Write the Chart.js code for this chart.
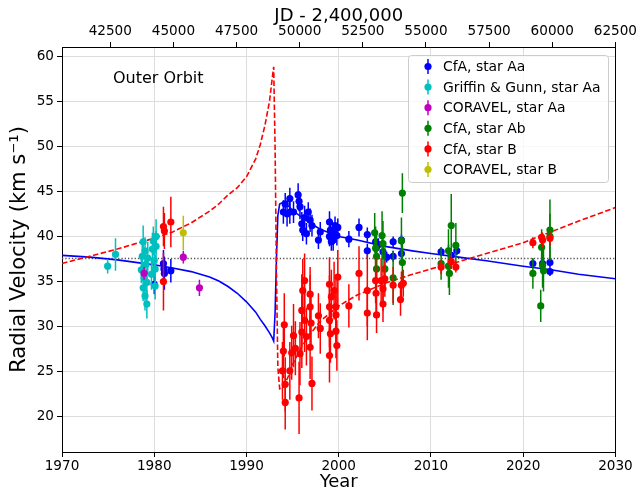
<!DOCTYPE html>
<html>
<head>
<meta charset="utf-8">
<script src="https://cdn.jsdelivr.net/npm/chart.js@4.4.0/dist/chart.umd.min.js"></script>
<style>
  html, body { margin: 0; padding: 0; background: #fff; }
  #wrap { width: 639px; height: 493px; }
</style>
</head>
<body>
<div id="wrap"><canvas id="rvChart" width="639" height="493"></canvas></div>
<script>
// axis ticks
const yearTicks = [1970, 1980, 1990, 2000, 2010, 2020, 2030];
const jdTicks = [42500, 45000, 47500, 50000, 52500, 55000, 57500, 60000, 62500];
const rvTicks = [20, 25, 30, 35, 40, 45, 50, 55, 60];
const systemicRv = 37.55;

// orbit curves
const fitYear = [1970, 1973, 1976, 1980, 1982, 1984, 1986, 1987, 1988, 1989, 1990, 1991, 1991.5, 1992, 1992.5, 1992.8, 1992.95,
  1993.1, 1993.25, 1993.4, 1993.6, 1994, 1994.5, 1995, 1996, 1997, 1998, 2000, 2002, 2005, 2008, 2010, 2013, 2016, 2020, 2023, 2026, 2030];
const fitAa = [37.9, 37.7, 37.4, 36.85, 36.5, 36.1, 35.5, 35.05, 34.45, 33.7, 32.75, 31.6, 30.8, 30.1, 29.3, 28.75, 28.4,
  31.5, 37.5, 42.3, 43.6, 43.8, 43.4, 42.9, 42.1, 41.4, 40.8, 40.0, 39.6, 38.9, 38.4, 38.1, 37.7, 37.3, 36.7, 36.3, 35.8, 35.3];
const fitB = [37.0, 37.8, 38.6, 39.8, 40.5, 41.5, 42.8, 43.6, 44.6, 45.4, 46.6, 48.6, 50.2, 52.3, 55.0, 57.6, 58.8,
  50.0, 36.0, 25.5, 23.1, 23.3, 24.4, 25.8, 27.8, 29.3, 30.6, 32.3, 33.5, 34.8, 35.8, 36.4, 37.2, 38.1, 39.3, 40.5, 41.7, 43.2];

// CfA, star Aa
const cfaAaYear = [1980.0, 1981.0, 1981.05, 1981.1, 1981.8,
  1994.0, 1994.2, 1994.4, 1994.7, 1994.7, 1995.1, 1995.6, 1995.7, 1995.8, 1996.0, 1996.1, 1996.3, 1996.5, 1996.7, 1996.9, 1997.1,
  1997.8, 1998.0, 1999.0, 1999.0, 1999.1, 1999.2, 1999.4, 1999.5, 1999.6, 1999.8, 1999.9, 2001.1, 2002.2, 2003.1, 2003.1,
  2004.0, 2004.1, 2004.3, 2004.8, 2005.2, 2005.9, 2005.9, 2006.8, 2006.8, 2011.1, 2012.2, 2012.8, 2021.05, 2022.1, 2022.9, 2022.9];
const cfaAaRv = [34.7, 37.0, 36.4, 35.9, 36.2,
  42.7, 43.6, 42.5, 44.2, 42.7, 42.7, 44.6, 43.9, 43.3, 41.4, 40.7, 42.1, 40.3, 42.7, 41.8, 41.2,
  39.6, 40.5, 41.6, 40.0, 40.7, 39.4, 39.6, 40.3, 41.2, 40.1, 41.0, 39.7, 41.0, 40.2, 38.4,
  39.4, 38.8, 39.1, 38.3, 37.7, 39.4, 37.8, 39.6, 38.1, 38.3, 37.9, 38.4, 37.0, 37.0, 37.1, 36.1];
const cfaAaErr = [1.1, 1.5, 1.4, 1.8, 1.3,
  1.3, 1.2, 1.4, 1.2, 1.3, 1.2, 1.3, 1.1, 1.4, 1.3, 1.2, 1.3, 1.2, 1.1, 1.3, 1.2,
  1.0, 1.1, 1.2, 1.1, 1.3, 1.0, 1.2, 1.1, 1.0, 1.1, 1.0, 0.9, 1.0, 0.8, 0.8,
  0.8, 0.7, 0.7, 0.7, 0.6, 0.6, 0.6, 0.6, 0.6, 0.5, 0.5, 0.5, 0.5, 0.5, 0.5, 0.5];

// Griffin & Gunn, star Aa
const ggAaYear = [1974.95, 1975.8, 1978.6, 1978.7, 1978.8, 1978.8, 1978.9, 1979.0, 1979.0, 1979.1, 1979.2, 1979.2, 1979.3,
  1979.7, 1979.8, 1979.9, 1980.0, 1980.1, 1980.2, 1980.1, 1980.2];
const ggAaRv = [36.7, 38.0, 36.3, 37.8, 34.3, 39.4, 35.4, 38.4, 33.4, 36.9, 32.5, 34.9, 37.6,
  35.8, 38.6, 39.5, 37.3, 34.5, 40.0, 36.4, 38.9];
const ggAaErr = [0.8, 1.8, 1.5, 1.8, 1.5, 1.8, 1.6, 1.5, 1.6, 1.7, 1.6, 1.5, 1.8,
  1.7, 1.8, 1.6, 1.7, 1.5, 1.9, 1.6, 1.7];

// CORAVEL, star Aa
const corAaYear = [1978.9, 1983.15, 1984.9];
const corAaRv = [35.9, 37.7, 34.3];
const corAaErr = [0.7, 0.7, 0.9];

// CfA, star Ab
const cfaAbYear = [2003.9, 2004.0, 2004.1, 2004.1, 2004.7, 2004.8, 2005.0, 2005.9, 2006.8, 2006.9, 2006.9,
  2011.1, 2011.9, 2011.9, 2012.0, 2012.2, 2012.7, 2021.05, 2021.9, 2022.0, 2022.1, 2022.2, 2022.9, 2022.9];
const cfaAbRv = [40.4, 38.7, 37.8, 36.4, 40.1, 39.2, 36.4, 35.4, 39.5, 44.8, 37.1,
  37.0, 38.4, 36.7, 35.9, 41.2, 39.0, 35.9, 32.3, 38.8, 36.8, 36.2, 40.7, 40.0];
const cfaAbErr = [2.2, 2.4, 2.5, 2.6, 2.7, 2.5, 2.4, 3.0, 2.6, 2.2, 2.5,
  1.8, 2.4, 2.4, 2.4, 3.5, 2.5, 1.7, 1.8, 2.0, 2.5, 2.3, 3.4, 2.5];

// CfA, star B
const cfaBYear = [1981.0, 1981.1, 1981.8, 1981.0,
  1993.9, 1994.0, 1994.1, 1994.2, 1994.2, 1994.7, 1994.9, 1995.1, 1995.3, 1995.7, 1995.8, 1996.0, 1996.0, 1996.1, 1996.3,
  1996.3, 1996.5, 1996.9, 1996.9, 1997.0, 1996.9, 1997.1, 1997.8, 1998.0, 1999.0, 1999.0, 1999.0, 1999.1, 1999.0, 1999.2,
  1999.5, 1999.7, 1999.9, 1999.7, 1999.7, 1999.8, 2001.1, 2002.2, 2003.1, 2003.1, 2004.0, 2004.05, 2004.1, 2004.6, 2004.8,
  2004.8, 2005.0, 2005.9, 2006.7, 2006.8, 2007.0, 2011.1, 2012.2, 2012.7, 2021.05, 2022.0, 2022.1, 2022.9];
const cfaBRv = [41.1, 40.6, 41.6, 35.0,
  25.1, 27.3, 30.2, 23.6, 21.6, 25.1, 27.1, 29.0, 27.6, 22.1, 27.0, 29.4, 31.8, 34.0, 35.1,
  30.7, 28.9, 33.6, 32.2, 30.4, 27.7, 23.7, 31.2, 29.8, 34.7, 32.2, 30.7, 29.2, 26.8, 33.3,
  34.0, 32.2, 35.5, 31.3, 29.5, 27.9, 32.3, 35.9, 34.0, 31.5, 35.1, 33.7, 31.3, 35.1, 34.2,
  32.5, 35.3, 34.6, 33.0, 34.6, 34.8, 36.6, 37.2, 36.6, 39.3, 39.9, 39.6, 39.8];
const cfaBErr = [2.2, 2.0, 2.8, 3.2,
  3.2, 3.0, 3.5, 3.0, 3.0, 3.2, 3.0, 3.5, 3.0, 4.0, 3.5, 4.0, 4.0, 3.5, 3.0,
  3.5, 3.2, 3.0, 3.5, 3.0, 3.5, 3.0, 2.5, 2.8, 3.0, 3.5, 3.0, 3.2, 3.0, 3.0,
  3.2, 3.0, 3.0, 3.0, 3.0, 2.8, 2.4, 3.0, 4.0, 3.0, 2.5, 2.5, 2.0, 2.5, 2.5,
  2.0, 2.0, 2.0, 1.8, 1.5, 1.5, 0.8, 0.8, 0.6, 0.6, 0.6, 0.8, 0.8];

// CORAVEL, star B
const corBYear = [1983.15];
const corBRv = [40.4];
const corBErr = [1.9];

const FONT = 'DejaVu Sans';

function pts(xs, ys) {
  return xs.map((x, i) => ({x: x, y: ys[i]}));
}

function rvSet(label, color, xs, ys, errs, order) {
  return {
    label: label,
    data: pts(xs, ys),
    errs: errs,
    backgroundColor: color,
    borderColor: color,
    borderWidth: 0,
    pointRadius: 3.6,
    pointHoverRadius: 3.6,
    order: order
  };
}

// vertical error bars, drawn just before each dataset's markers
const errorBars = {
  id: 'errorBars',
  beforeDatasetDraw(chart, args) {
    const ds = chart.data.datasets[args.index];
    if (!ds.errs) return;
    const ctx = chart.ctx, y = chart.scales.y, a = chart.chartArea;
    ctx.save();
    ctx.beginPath();
    ctx.rect(a.left, a.top, a.right - a.left, a.bottom - a.top);
    ctx.clip();
    ctx.strokeStyle = ds.backgroundColor;
    ctx.lineWidth = 1.5;
    args.meta.data.forEach((pt, i) => {
      const v = ds.data[i].y, e = ds.errs[i];
      ctx.beginPath();
      ctx.moveTo(pt.x, y.getPixelForValue(v - e));
      ctx.lineTo(pt.x, y.getPixelForValue(v + e));
      ctx.stroke();
    });
    ctx.restore();
  }
};

// matplotlib style legend box + "Outer Orbit" note
const boxLegend = {
  id: 'boxLegend',
  afterDraw(chart) {
    const ctx = chart.ctx;
    const items = chart.data.datasets.filter(d => d.errs);
    ctx.save();
    ctx.fillStyle = 'rgba(255,255,255,0.8)';
    ctx.strokeStyle = '#cccccc';
    ctx.lineWidth = 1;
    ctx.beginPath();
    ctx.roundRect(408.5, 55.5, 200, 127, 3);
    ctx.fill();
    ctx.stroke();
    ctx.font = '13.9px "' + FONT + '"';
    ctx.textBaseline = 'middle';
    items.forEach((d, i) => {
      const yy = 66.5 + i * 20.6;
      ctx.strokeStyle = d.backgroundColor;
      ctx.lineWidth = 1.5;
      ctx.beginPath();
      ctx.moveTo(428, yy - 7.5);
      ctx.lineTo(428, yy + 7.5);
      ctx.stroke();
      ctx.fillStyle = d.backgroundColor;
      ctx.beginPath();
      ctx.arc(428, yy, 3.6, 0, Math.PI * 2);
      ctx.fill();
      ctx.fillStyle = '#000';
      ctx.fillText(d.label, 443, yy + 1);
    });
    ctx.font = '16px "' + FONT + '"';
    ctx.fillStyle = '#000';
    ctx.fillText('Outer Orbit', 113, 79);
    ctx.restore();
  }
};

const tickFont = {family: FONT, size: 13.6};
const titleFont = {family: FONT, size: 18};

new Chart('rvChart', {
  type: 'scatter',
  data: {
    datasets: [
      rvSet('CfA, star Aa', '#0000ff', cfaAaYear, cfaAaRv, cfaAaErr, 6),
      rvSet('Griffin & Gunn, star Aa', '#00bfbf', ggAaYear, ggAaRv, ggAaErr, 5),
      rvSet('CORAVEL, star Aa', '#bf00bf', corAaYear, corAaRv, corAaErr, 4),
      rvSet('CfA, star Ab', '#008000', cfaAbYear, cfaAbRv, cfaAbErr, 3),
      rvSet('CfA, star B', '#ff0000', cfaBYear, cfaBRv, cfaBErr, 2),
      rvSet('CORAVEL, star B', '#bfbf00', corBYear, corBRv, corBErr, 1),
      {
        label: 'Aa orbit',
        data: pts(fitYear, fitAa),
        showLine: true,
        borderColor: '#0000ff',
        borderWidth: 1.6,
        pointRadius: 0,
        order: 10
      },
      {
        label: 'B orbit',
        data: pts(fitYear, fitB),
        showLine: true,
        borderColor: '#ff0000',
        borderWidth: 1.6,
        borderDash: [5.5, 2.5],
        pointRadius: 0,
        order: 9
      },
      {
        label: 'systemic',
        data: pts([1970, 2030], [systemicRv, systemicRv]),
        showLine: true,
        borderColor: '#555555',
        borderWidth: 1.3,
        borderDash: [1.3, 2],
        pointRadius: 0,
        order: 11
      }
    ]
  },
  options: {
    responsive: false,
    animation: false,
    events: [],
    layout: {padding: 0},
    plugins: {
      legend: {display: false},
      tooltip: {enabled: false}
    },
    scales: {
      x: {
        type: 'linear',
        position: 'bottom',
        min: 1970,
        max: 2030,
        afterBuildTicks: s => { s.ticks = yearTicks.map(v => ({value: v})); },
        afterFit: s => { s.height = 41; },
        ticks: {font: tickFont, color: '#000', padding: 1, maxRotation: 0, autoSkip: false, callback: v => String(v)},
        grid: {color: '#dddddd', tickColor: '#000', tickLength: 5},
        border: {color: '#000', width: 1},
        title: {display: true, text: 'Year', font: titleFont, color: '#000', padding: {top: 0, bottom: 0}}
      },
      x2: {
        type: 'linear',
        position: 'top',
        min: 40587.5,
        max: 62502.5,
        afterBuildTicks: s => { s.ticks = jdTicks.map(v => ({value: v})); },
        afterFit: s => { s.height = 47; },
        ticks: {font: tickFont, color: '#000', padding: 2, maxRotation: 0, autoSkip: false, callback: v => String(v)},
        grid: {drawOnChartArea: false, tickColor: '#000', tickLength: 5},
        border: {color: '#000', width: 1},
        title: {display: true, text: 'JD - 2,400,000', font: titleFont, color: '#000', padding: {top: 6, bottom: 0}}
      },
      y: {
        type: 'linear',
        position: 'left',
        min: 16.1,
        max: 61,
        afterBuildTicks: s => { s.ticks = rvTicks.map(v => ({value: v})); },
        afterFit: s => { s.width = 62; },
        ticks: {font: tickFont, color: '#000', padding: 3, callback: v => String(v)},
        grid: {color: '#dddddd', tickColor: '#000', tickLength: 5},
        border: {color: '#000', width: 1},
        title: {display: true, text: 'Radial Velocity (km s\u207B\u00B9)', font: {family: FONT, size: 21}, color: '#000', padding: {top: 7, bottom: 0}}
      },
      y2: {
        type: 'linear',
        position: 'right',
        min: 16.1,
        max: 61,
        afterFit: s => { s.width = 23; },
        ticks: {display: false},
        grid: {drawOnChartArea: false, drawTicks: false},
        border: {color: '#000', width: 1}
      }
    }
  },
  plugins: [errorBars, boxLegend]
});
</script>
</body>
</html>
